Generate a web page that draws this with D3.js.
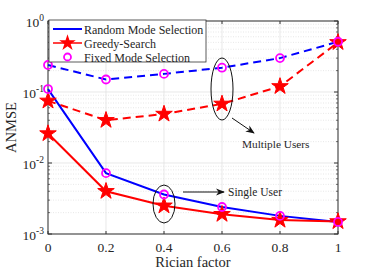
<!DOCTYPE html>
<html><head><meta charset="utf-8">
<script src="https://cdn.jsdelivr.net/npm/d3@7"></script>
<style>body{margin:0;background:#fff}svg{display:block}text{font-family:"Liberation Serif","Times New Roman",serif;fill:#262626}</style>
</head><body><svg id="c" width="374" height="272"></svg>
<script>
const xVals = [0, 0.2, 0.4, 0.6, 0.8, 1];
const randomSingle = [0.11, 0.0072, 0.0036, 0.0024, 0.0018, 0.00148];
const greedySingle = [0.026, 0.0040, 0.0025, 0.0019, 0.00157, 0.0015];
const randomMulti = [0.24, 0.15, 0.18, 0.22, 0.30, 0.51];
const greedyMulti = [0.075, 0.040, 0.049, 0.068, 0.12, 0.50];
const xTicks = [0, 0.2, 0.4, 0.6, 0.8, 1];
const yTickExps = [0, -1, -2, -3];
const legendLabels = ["Random Mode Selection", "Greedy-Search", "Fixed Mode Selection"];

const svg = d3.select("#c");
const L = 48, R = 338, T = 21, B = 234;
const x = d3.scaleLinear().domain([0, 1]).range([L, R]);
const y = d3.scaleLog().domain([1e-3, 1]).range([B, T]);

// grid
const g = svg.append("g");
const minor = [];
for (let e = -3; e < 0; e++) for (let m = 2; m <= 9; m++) minor.push(m * Math.pow(10, e));
g.selectAll(".mn").data(minor).join("line")
  .attr("x1", L).attr("x2", R).attr("y1", d => y(d)).attr("y2", d => y(d))
  .attr("stroke", "#d8d8d8").attr("stroke-width", 0.6).attr("stroke-dasharray", "1,1.5");
g.selectAll(".mj").data(yTickExps.map(e => Math.pow(10, e))).join("line")
  .attr("x1", L).attr("x2", R).attr("y1", d => y(d)).attr("y2", d => y(d))
  .attr("stroke", "#dedede").attr("stroke-width", 0.7);
g.selectAll(".vx").data(xTicks).join("line")
  .attr("x1", d => x(d)).attr("x2", d => x(d)).attr("y1", T).attr("y2", B)
  .attr("stroke", "#dedede").attr("stroke-width", 0.7);

// axes
const ax = svg.append("g");
ax.append("rect").attr("x", L).attr("y", T).attr("width", R - L).attr("height", B - T)
  .attr("fill", "none").attr("stroke", "#333").attr("stroke-width", 1);
xTicks.forEach(t => {
  ax.append("line").attr("x1", x(t)).attr("x2", x(t)).attr("y1", B).attr("y2", B - 3).attr("stroke", "#333");
  ax.append("line").attr("x1", x(t)).attr("x2", x(t)).attr("y1", T).attr("y2", T + 3).attr("stroke", "#333");
  ax.append("text").attr("x", x(t)).attr("y", B + 18).attr("text-anchor", "middle")
    .attr("font-size", 13.5).text(String(t));
});
minor.forEach(v => {
  ax.append("line").attr("x1", L).attr("x2", L + 2).attr("y1", y(v)).attr("y2", y(v)).attr("stroke", "#333").attr("stroke-width", 0.7);
  ax.append("line").attr("x1", R).attr("x2", R - 2).attr("y1", y(v)).attr("y2", y(v)).attr("stroke", "#333").attr("stroke-width", 0.7);
});
yTickExps.forEach(e => {
  const v = Math.pow(10, e);
  ax.append("line").attr("x1", L).attr("x2", L + 4).attr("y1", y(v)).attr("y2", y(v)).attr("stroke", "#333");
  ax.append("line").attr("x1", R).attr("x2", R - 4).attr("y1", y(v)).attr("y2", y(v)).attr("stroke", "#333");
  const t = ax.append("text").attr("x", L - 4).attr("y", y(v) + 6).attr("text-anchor", "end").attr("font-size", 13.5);
  t.append("tspan").text("10");
  t.append("tspan").attr("dy", -6).attr("font-size", 9.5).text(String(e));
});
svg.append("text").attr("x", (L + R) / 2).attr("y", 267).attr("text-anchor", "middle").attr("font-size", 14.5).text("Rician factor");
svg.append("text").attr("transform", `translate(16,${(T + B) / 2}) rotate(-90)`).attr("text-anchor", "middle").attr("font-size", 14.5).text("ANMSE");

// lines
const line = d3.line().x((d, i) => x(xVals[i])).y(d => y(d));
const series = [
  {v: randomMulti, c: "#0000ff", dash: "8,5"},
  {v: greedyMulti, c: "#ff0000", dash: "8,5"},
  {v: randomSingle, c: "#0000ff", dash: null},
  {v: greedySingle, c: "#ff0000", dash: null}
];
const plot = svg.append("g");
series.forEach(s => {
  plot.append("path").datum(s.v).attr("d", line).attr("fill", "none")
    .attr("stroke", s.c).attr("stroke-width", 2).attr("stroke-dasharray", s.dash);
});
const star = d3.symbol().type(d3.symbolStar).size(85);
[greedyMulti, greedySingle].forEach(v => {
  plot.selectAll(null).data(v).join("path").attr("d", star)
    .attr("transform", (d, i) => `translate(${x(xVals[i])},${y(d)})`).attr("fill", "#ff0000").attr("stroke", "#ff0000");
});
[randomMulti, randomSingle].forEach(v => {
  plot.selectAll(null).data(v).join("circle").attr("cx", (d, i) => x(xVals[i])).attr("cy", d => y(d))
    .attr("r", 4).attr("fill", "none").attr("stroke", "#ff00ff").attr("stroke-width", 1.8);
});

// legend
const lg = svg.append("g");
lg.append("rect").attr("x", 49).attr("y", 20).attr("width", 157).attr("height", 42)
  .attr("fill", "#fff").attr("stroke", "#333").attr("stroke-width", 0.8);
const ly = [29, 43, 57];
lg.append("line").attr("x1", 53).attr("x2", 82).attr("y1", ly[0]).attr("y2", ly[0]).attr("stroke", "#0000ff").attr("stroke-width", 2);
lg.append("line").attr("x1", 53).attr("x2", 82).attr("y1", ly[1]).attr("y2", ly[1]).attr("stroke", "#ff0000").attr("stroke-width", 1.5);
lg.append("path").attr("d", star).attr("transform", `translate(67.5,${ly[1]})`).attr("fill", "#ff0000");
lg.append("circle").attr("cx", 67.5).attr("cy", ly[2]).attr("r", 3.5).attr("fill", "none").attr("stroke", "#ff00ff").attr("stroke-width", 1.8);
legendLabels.forEach((t, i) => {
  lg.append("text").attr("x", 84).attr("y", ly[i] + 4.5).attr("font-size", 12).text(t);
});

// annotations
const an = svg.append("g");
svg.append("defs").append("marker").attr("id", "ah").attr("viewBox", "0 0 10 10").attr("refX", 9).attr("refY", 5)
  .attr("markerWidth", 9).attr("markerHeight", 9).attr("orient", "auto")
  .append("path").attr("d", "M0,1 L10,5 L0,9 L3,5 Z").attr("fill", "#111");
an.append("ellipse").attr("cx", x(0.6)).attr("cy", 89).attr("rx", 11).attr("ry", 31).attr("fill", "none").attr("stroke", "#111").attr("stroke-width", 1);
an.append("line").attr("x1", 232).attr("y1", 118).attr("x2", 254).attr("y2", 133).attr("stroke", "#111").attr("stroke-width", 1).attr("marker-end", "url(#ah)");
an.append("text").attr("x", 242).attr("y", 148).attr("font-size", 11.3).text("Multiple Users");
an.append("ellipse").attr("cx", x(0.4)).attr("cy", 204).attr("rx", 11).attr("ry", 19).attr("fill", "none").attr("stroke", "#111").attr("stroke-width", 1);
an.append("line").attr("x1", 183).attr("y1", 192).attr("x2", 224).attr("y2", 192).attr("stroke", "#111").attr("stroke-width", 1).attr("marker-end", "url(#ah)");
an.append("text").attr("x", 228).attr("y", 196).attr("font-size", 11.5).text("Single User");
</script></body></html>
